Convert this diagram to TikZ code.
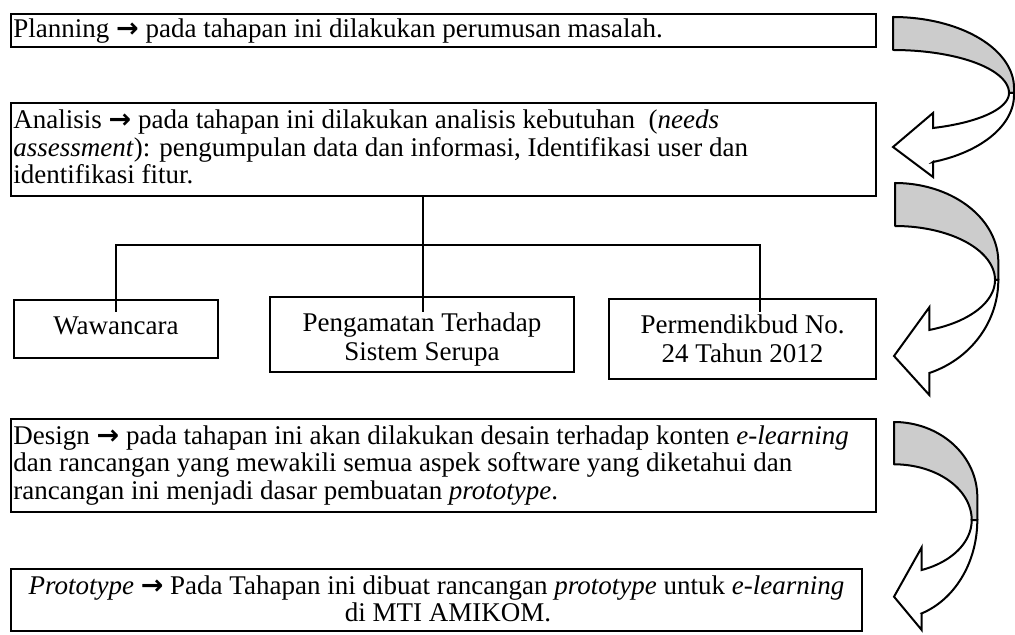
\documentclass[tikz,border=0pt]{standalone}
\usepackage{fontspec}
\setmainfont{Liberation Serif}
\newfontfamily\arrowfont{DejaVu Sans}
\usetikzlibrary{calc}
\definecolor{bandgray}{RGB}{204,204,204}
% heavy right arrow used inside the stage texts
\newcommand\goesto{{\arrowfont\bfseries →}}
% text block of a box: width, height, first baseline, alignment, text
\newcommand\inbox[5]{\parbox[t][#2][t]{#1}{#4\rule{0pt}{#3}#5}}
\tikzset{
  stage/.style={draw, line width=1pt, inner xsep=1.2pt, inner ysep=0pt,
    anchor=north west, font=\fontsize{13.5}{13.75}\selectfont},
  leaf/.style={stage, font=\fontsize{13.5}{14.5}\selectfont},
  link/.style={line width=1pt},
  band/.style={draw, line width=1pt, line join=round, fill=bandgray},
  front/.style={draw, line width=1pt, line join=miter, fill=white},
}
\begin{document}
\begin{tikzpicture}[x=0.5pt, y=-0.5pt]
\useasboundingbox (0,0) rectangle (1015,635);

% stage boxes
\node[stage] (plan) at (10,13)
  {\inbox{430.1pt}{16.5pt}{12pt}{\raggedright}{Planning \goesto{} pada tahapan ini dilakukan perumusan masalah.}};
\node[stage] (ana) at (10,102)
  {\inbox{430.1pt}{46.5pt}{13pt}{\raggedright}{Analisis \goesto{} pada tahapan ini dilakukan analisis kebutuhan\ \ (\textit{needs}\\
   \textit{assessment}): pengumpulan data dan informasi, Identifikasi user dan\\
   identifikasi fitur.}};
\node[leaf] (waw) at (13,299)
  {\inbox{99.6pt}{29pt}{17.5pt}{\centering}{Wawancara}};
\node[leaf] (obs) at (269,296)
  {\inbox{149.6pt}{37.5pt}{17.5pt}{\centering}{Pengamatan Terhadap\\ Sistem Serupa}};
\node[leaf] (reg) at (608,298)
  {\inbox{131.1pt}{40pt}{17.5pt}{\centering}{Permendikbud No.\\ 24 Tahun 2012}};
\node[stage] (des) at (10,418)
  {\inbox{430.1pt}{46.5pt}{12.5pt}{\raggedright}{Design \goesto{} pada tahapan ini akan dilakukan desain terhadap konten \textit{e-learning}\\
   dan rancangan yang mewakili semua aspek software yang diketahui dan\\
   rancangan ini menjadi dasar pembuatan \textit{prototype}.}};
\node[stage] (pro) at (10,568)
  {\inbox{423.1pt}{31pt}{12.5pt}{\centering}{\textit{Prototype} \goesto{} Pada Tahapan ini dibuat rancangan \textit{prototype} untuk \textit{e-learning}\hspace*{9.5pt}\\
   \hspace*{11.5pt}di MTI AMIKOM.}};

% tree from the analysis stage to its three sources
\coordinate (split) at (423,245);
\coordinate (wEnd) at ($(waw.north west)+(103,13)$);
\coordinate (oEnd) at ($(obs.north west)+(154,16)$);
\coordinate (rEnd) at ($(reg.north west)+(152,14)$);
\draw[link] (ana.south -| split) -- (split);
\draw[link] (split) -| (wEnd);
\draw[link] (split) -- (oEnd);
\draw[link] (split) -| (rEnd);

% curved arrow: planning -> analysis
\draw[band] (893,17)
  -- plot[domain=90:0, samples=40] ({893+121*cos(\x)},{88-71*sin(\x)})
  -- (1014,93) -- (1009,93)
  -- plot[domain=0:90, samples=40] ({893+116*cos(\x)},{93-43*sin(\x)})
  -- cycle;
\draw[front] (1009,93)
  -- plot[domain=0:-69.8, samples=40] ({893+116*cos(\x)},{93-37.3*sin(\x)})
  -- (933,113) -- (893,147) -- (933,177) -- (933,162)
  -- plot[domain=-70.7:0, samples=40] ({893+121*cos(\x)},{95-71*sin(\x)})
  -- (1014,93) -- cycle;

% curved arrow: analysis -> design
\draw[band] (895,183)
  -- plot[domain=90:0, samples=40] ({895+103.3*cos(\x)},{262-79*sin(\x)})
  -- (998.3,280) -- (995,280)
  -- plot[domain=0:90, samples=40] ({895+100*cos(\x)},{280-54*sin(\x)})
  -- cycle;
\draw[front] (995,280)
  -- plot[domain=0:-69.9, samples=40] ({895+100*cos(\x)},{280-53.2*sin(\x)})
  -- (929.3,307.3) -- (894,356) -- (929.3,395) -- (929.3,373)
  -- plot[domain=-70.6:0, samples=40] ({895+103.3*cos(\x)},{280-98.6*sin(\x)})
  -- cycle;

% curved arrow: design -> prototype
\draw[band] (894,422)
  -- plot[domain=90:0, samples=40] ({894+83.3*cos(\x)},{497-75*sin(\x)})
  -- (977.3,520) -- (971.7,520)
  -- plot[domain=0:90, samples=40] ({894+77.7*cos(\x)},{520-55.7*sin(\x)})
  -- cycle;
\draw[front] (971.7,520)
  -- plot[domain=0:-69.1, samples=40] ({894+77.7*cos(\x)},{520-53.5*sin(\x)})
  -- (921.7,547.3) -- (894,596.7) -- (921.7,630) -- (921.7,613.4)
  -- plot[domain=-70.6:0, samples=40] ({894+83.3*cos(\x)},{520-99*sin(\x)})
  -- cycle;
\end{tikzpicture}
\end{document}
